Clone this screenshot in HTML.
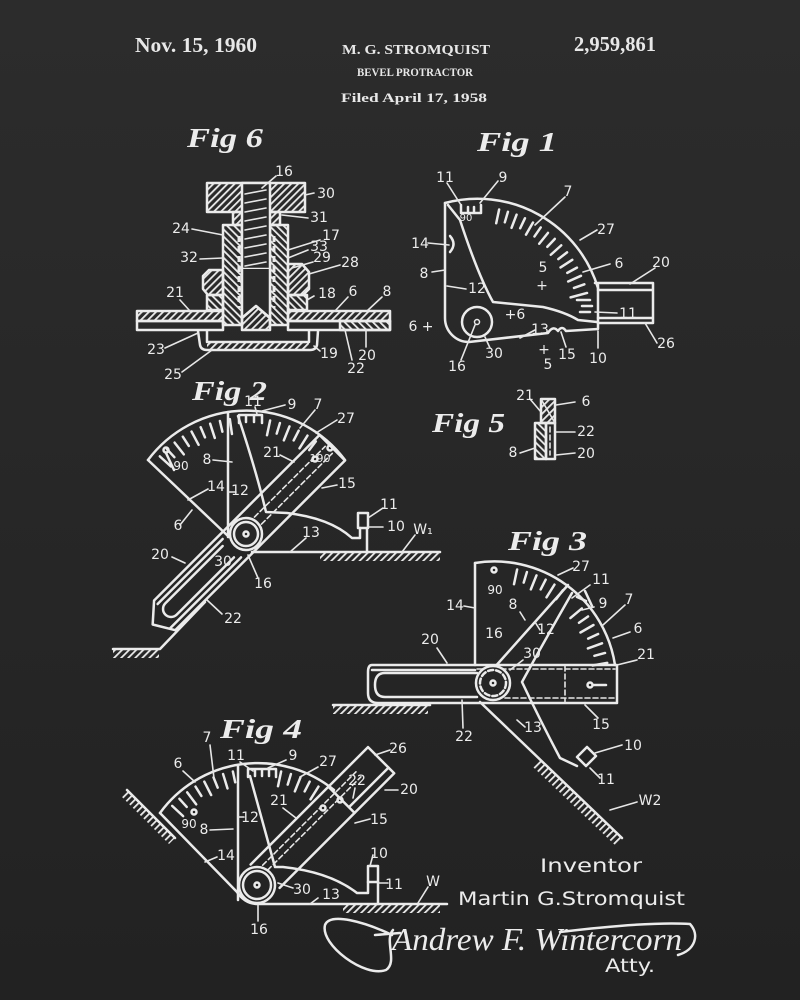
<!DOCTYPE html>
<html><head><meta charset="utf-8"><style>
html,body{margin:0;padding:0;background:#262626;}
svg{display:block}
.s{stroke:#ebebeb;fill:none;stroke-width:2.5;stroke-linecap:round;stroke-linejoin:round}
.l{stroke:#e6e6e6;fill:none;stroke-width:1.6;stroke-linecap:round}
.n{font-family:"DejaVu Sans","Liberation Sans",sans-serif;font-size:14px;fill:#ececec;text-anchor:middle}
.f{font-family:"Liberation Serif",serif;font-style:italic;font-weight:bold;font-size:27px;fill:#ececec}
.h{font-family:"Liberation Serif",serif;font-weight:bold;fill:#e8e8e8}
.d{stroke-dasharray:5 3}
</style></head><body>
<svg width="800" height="1000" viewBox="0 0 800 1000" xmlns="http://www.w3.org/2000/svg">
<defs>
<linearGradient id="bg" x1="0" y1="0" x2="0" y2="1"><stop offset="0" stop-color="#2c2c2c"/><stop offset="1" stop-color="#222"/></linearGradient>
<pattern id="hA" width="5" height="5" patternUnits="userSpaceOnUse" patternTransform="rotate(45)"><rect width="1.8" height="5" fill="#ebebeb"/></pattern>
<pattern id="hB" width="5" height="5" patternUnits="userSpaceOnUse" patternTransform="rotate(-45)"><rect width="1.8" height="5" fill="#ebebeb"/></pattern>
</defs>
<rect width="800" height="1000" fill="url(#bg)"/>

<!-- header -->
<text class="h" x="135" y="52" font-size="21" textLength="122" lengthAdjust="spacingAndGlyphs">Nov. 15, 1960</text>
<text class="h" x="342" y="54" font-size="14" textLength="148" lengthAdjust="spacingAndGlyphs">M. G. STROMQUIST</text>
<text class="h" x="357" y="76" font-size="12" textLength="116" lengthAdjust="spacingAndGlyphs">BEVEL PROTRACTOR</text>
<text class="h" x="341" y="102" font-size="13" textLength="146" lengthAdjust="spacingAndGlyphs">Filed April 17, 1958</text>
<text class="h" x="574" y="51" font-size="21" textLength="82" lengthAdjust="spacingAndGlyphs">2,959,861</text>

<!-- fig labels -->
<text class="f" x="187" y="147" textLength="76" lengthAdjust="spacingAndGlyphs">Fig 6</text>
<text class="f" x="477" y="151" textLength="80" lengthAdjust="spacingAndGlyphs">Fig 1</text>
<text class="f" x="192" y="400" textLength="75" lengthAdjust="spacingAndGlyphs">Fig 2</text>
<text class="f" x="432" y="432" textLength="73" lengthAdjust="spacingAndGlyphs">Fig 5</text>
<text class="f" x="508" y="550" textLength="79" lengthAdjust="spacingAndGlyphs">Fig 3</text>
<text class="f" x="220" y="738" textLength="82" lengthAdjust="spacingAndGlyphs">Fig 4</text>

<!-- ============ FIG 6 ============ -->
<g class="s">
<rect x="207" y="183" width="98" height="29" fill="url(#hA)"/>
<rect x="233" y="212" width="47" height="13" fill="url(#hA)"/>
<rect x="223" y="225" width="19" height="100" fill="url(#hB)"/>
<rect x="270" y="225" width="18" height="100" fill="url(#hB)"/>
<path d="M209,270 L223,270 L223,295 L208,295 L203,289 L203,276 Z" fill="url(#hA)"/>
<path d="M288,264 L302,264 L309,272 L309,289 L303,295 L288,295 Z" fill="url(#hA)"/>
<rect x="207" y="295" width="16" height="15" fill="url(#hB)"/>
<rect x="288" y="295" width="19" height="15" fill="url(#hB)"/>
<rect x="242" y="183" width="28" height="86" fill="#2a2a2a"/>
<path d="M242,269 L242,318 L256,306 L270,318 L270,269" fill="#2a2a2a"/>
<path d="M242,318 L256,306 L270,318 L270,330 L242,330 Z" fill="url(#hA)"/>
<rect x="137" y="311" width="86" height="10" fill="url(#hA)"/>
<rect x="137" y="321" width="86" height="9"/>
<rect x="288" y="311" width="102" height="10" fill="url(#hA)"/>
<rect x="288" y="321" width="102" height="9"/>
<rect x="340" y="321" width="50" height="9" fill="url(#hB)"/>
<path d="M198,331 L200,345 Q201,350 207,350 L310,350 Q316,350 317,345 L318,331"/>
<path d="M207,331 L207,342 L309,342 L309,331"/>
</g>
<rect x="207" y="342" width="102" height="8" fill="url(#hA)"/>
<g class="l">
<path d="M245,194 L266,190 M245,203 L266,199 M245,212 L266,208 M245,221 L266,217 M245,230 L266,226 M245,239 L266,235 M245,248 L266,244 M245,257 L266,253 M245,266 L266,262"/>
</g>
<g stroke="#ebebeb" stroke-width="3" stroke-dasharray="6 4" fill="none">
<path d="M239,236 L239,308 M274,236 L274,308"/>
</g>
<g class="l">
<path d="M276,176 L262,188 M314,193 L305,195 M308,218 L282,215 M192,229 L223,235 M320,240 L288,250 M308,250 L288,258 M313,262 L292,268 M340,265 L309,274 M200,259 L223,258 M314,296 L307,300 M348,297 L335,311 M382,297 L367,311 M180,300 L190,311 M165,348 L198,333 M182,372 L212,350 M320,351 L314,346 M366,347 L366,330 M352,360 L345,330"/>
</g>
<g class="n">
<text x="284" y="176">16</text><text x="326" y="198">30</text><text x="319" y="222">31</text>
<text x="181" y="233">24</text><text x="331" y="240">17</text><text x="319" y="251">33</text>
<text x="322" y="262">29</text><text x="350" y="267">28</text><text x="189" y="262">32</text>
<text x="327" y="298">18</text><text x="353" y="296">6</text><text x="387" y="296">8</text>
<text x="175" y="297">21</text><text x="156" y="354">23</text><text x="173" y="379">25</text>
<text x="329" y="358">19</text><text x="367" y="360">20</text><text x="356" y="373">22</text>
</g>

<!-- ============ FIG 1 ============ -->
<g class="s">
<path d="M445,203 A126,126 0 0 1 598,288"/>
<path d="M445,203 L445,318 A24,24 0 0 0 469,342 L548,333 Q553,325 558,331 Q562,325 566,331 L598,329 L598,285"/>
<path d="M448,205 L460,220 Q478,275 493,302 L543,307 Q565,312 578,320 L597,322"/>
<path d="M450,236 Q457,244 450,252"/>
<path d="M595,283 L653,283 L653,323 L598,323 M598,290 L653,290 M598,318 L653,318"/>
<circle cx="477" cy="322" r="15"/>
<path d="M461,213 L461,205 M461,213 L481,213 L481,205 M468,213 L468,207 M474,213 L474,207"/>
</g>
<circle cx="477" cy="322" r="2.5" fill="none" stroke="#ebebeb" stroke-width="1.5"/>
<g class="s" transform="translate(475,323)">
<line x1="0" y1="-102" x2="0" y2="-116" transform="rotate(12)"/>
<line x1="0" y1="-105" x2="0" y2="-116" transform="rotate(16.5)"/>
<line x1="0" y1="-102" x2="0" y2="-116" transform="rotate(21)"/>
<line x1="0" y1="-105" x2="0" y2="-116" transform="rotate(25.5)"/>
<line x1="0" y1="-102" x2="0" y2="-116" transform="rotate(30)"/>
<line x1="0" y1="-105" x2="0" y2="-116" transform="rotate(34.5)"/>
<line x1="0" y1="-102" x2="0" y2="-116" transform="rotate(39)"/>
<line x1="0" y1="-105" x2="0" y2="-116" transform="rotate(43.5)"/>
<line x1="0" y1="-102" x2="0" y2="-116" transform="rotate(48)"/>
<line x1="0" y1="-105" x2="0" y2="-116" transform="rotate(52.5)"/>
<line x1="0" y1="-102" x2="0" y2="-116" transform="rotate(57)"/>
<line x1="0" y1="-105" x2="0" y2="-116" transform="rotate(61.5)"/>
<line x1="0" y1="-102" x2="0" y2="-116" transform="rotate(66)"/>
<line x1="0" y1="-105" x2="0" y2="-116" transform="rotate(70.5)"/>
<line x1="0" y1="-99" x2="0" y2="-116" transform="rotate(75)"/>
</g>
<g class="s"><path d="M577,300 L590,300 M582,306 L592,306 M580,312 L590,312"/></g>
<g class="l">
<path d="M447,183 L461,205 M498,181 L480,203 M565,197 L535,225 M597,230 L580,240 M428,243 L449,245 M432,272 L445,270 M466,289 L447,286 M610,264 L583,272 M655,268 L630,284 M617,313 L595,312 M535,330 L520,338 M598,348 L598,331 M657,343 L645,323 M461,360 L475,325 M490,348 L485,337 M566,347 L561,332"/>
</g>
<g class="n">
<text x="445" y="182">11</text><text x="503" y="182">9</text><text x="568" y="196">7</text>
<text x="606" y="234">27</text><text x="420" y="248">14</text><text x="424" y="278">8</text>
<text x="477" y="293">12</text><text x="543" y="272">5</text><text x="542" y="290">+</text>
<text x="619" y="268">6</text><text x="661" y="267">20</text><text x="628" y="318">11</text>
<text x="421" y="331">6 +</text><text x="515" y="319">+6</text><text x="540" y="334">13</text>
<text x="567" y="359">15</text><text x="544" y="354">+</text><text x="548" y="369">5</text>
<text x="598" y="363">10</text><text x="666" y="348">26</text><text x="457" y="371">16</text>
<text x="494" y="358">30</text><text x="466" y="221" font-size="10">90</text>
</g>

<!-- ============ FIG 5 ============ -->
<g class="s">
<rect x="541" y="399" width="14" height="24" fill="url(#hA)"/>
<rect x="535" y="423" width="11" height="36" fill="url(#hB)"/>
<rect x="546" y="423" width="9" height="36"/>
</g>
<path d="M541,399 L555,423" class="l"/>
<path d="M550,427 L550,455" class="l d"/>
<g class="l"><path d="M530,399 L541,412 M575,402 L556,405 M575,432 L556,432 M520,453 L535,448 M575,453 L556,455"/></g>
<g class="n"><text x="525" y="400">21</text><text x="586" y="406">6</text><text x="586" y="436">22</text><text x="513" y="457">8</text><text x="586" y="458">20</text></g>

<!-- ============ FIG 2 ============ -->
<g class="s">
<path d="M148,460 A123,123 0 0 1 345,460"/>
<path d="M148,460 L229,537"/>
<path d="M228,412 L228,537"/>
<path d="M238,416 Q256,470 266,512 L287,513 Q330,518 352,538 L360,538 L360,528"/>
<rect x="358" y="513" width="10" height="15"/>
<path d="M367,528 L367,552 M252,552 L440,552"/>
<path d="M239,423 L239,415 L262,415 L262,423 M246,415 L246,422 M254,415 L254,422"/>
<path d="M113,649 L160,649 L205,602"/>
</g>
<rect x="320" y="553" width="120" height="8" fill="url(#hA)"/>
<rect x="113" y="650" width="46" height="8" fill="url(#hA)"/>
<g class="s" transform="translate(246,534)">
<line x1="0" y1="-101" x2="0" y2="-116" transform="rotate(-48)"/>
<line x1="0" y1="-105" x2="0" y2="-116" transform="rotate(-43)"/>
<line x1="0" y1="-101" x2="0" y2="-116" transform="rotate(-38)"/>
<line x1="0" y1="-105" x2="0" y2="-116" transform="rotate(-33)"/>
<line x1="0" y1="-101" x2="0" y2="-116" transform="rotate(-28)"/>
<line x1="0" y1="-105" x2="0" y2="-116" transform="rotate(-23)"/>
<line x1="0" y1="-101" x2="0" y2="-116" transform="rotate(-18)"/>
<line x1="0" y1="-105" x2="0" y2="-116" transform="rotate(-13)"/>
<line x1="0" y1="-101" x2="0" y2="-116" transform="rotate(-8)"/>
<line x1="0" y1="-101" x2="0" y2="-116" transform="rotate(12)"/>
<line x1="0" y1="-105" x2="0" y2="-116" transform="rotate(17)"/>
<line x1="0" y1="-101" x2="0" y2="-116" transform="rotate(22)"/>
<line x1="0" y1="-105" x2="0" y2="-116" transform="rotate(27)"/>
<line x1="0" y1="-101" x2="0" y2="-116" transform="rotate(32)"/>
<line x1="0" y1="-105" x2="0" y2="-116" transform="rotate(37)"/>
</g>
<g class="s" transform="translate(246,534) rotate(-45)">
<path d="M122,-18 L-112,-18 L-130,-2 L-118,18 L122,18 Z"/>
<path d="M-112,-13 L-20,-13 M-120,13 L-20,13"/>
<path d="M-25,-8 L-106,-8 A8,8 0 0 0 -106,8 L-25,8"/>
</g>
<g class="l d" transform="translate(246,534) rotate(-45)"><path d="M18,-6 L118,-6 M18,4 L118,4"/></g>
<g class="s"><circle cx="246" cy="534" r="16" fill="#272727"/><circle cx="246" cy="534" r="12"/><circle cx="246" cy="534" r="2.5"/></g>
<g class="s"><circle cx="166" cy="450" r="2.5"/><path d="M166,453 L174,470"/><circle cx="315" cy="459" r="2.5"/><circle cx="330" cy="448" r="2.5"/></g>
<g class="l">
<path d="M255,407 L257,414 M285,405 L262,411 M315,410 L300,428 M337,420 L316,433 M280,455 L294,462 M213,460 L232,462 M208,489 L188,500 M236,492 L228,492 M337,485 L322,488 M180,525 L192,510 M383,508 L368,518 M383,527 L368,527 M415,535 L402,552 M306,538 L290,552 M172,557 L185,563 M258,578 L248,555 M222,614 L207,600"/>
</g>
<g class="n">
<text x="253" y="406">11</text><text x="292" y="409">9</text><text x="318" y="409">7</text>
<text x="346" y="423">27</text><text x="272" y="457">21</text><text x="207" y="464">8</text>
<text x="181" y="470" font-size="12">90</text><text x="216" y="491">14</text><text x="240" y="495">12</text>
<text x="347" y="488">15</text><text x="178" y="530">6</text><text x="389" y="509">11</text>
<text x="396" y="531">10</text><text x="423" y="534">W₁</text><text x="311" y="537">13</text>
<text x="160" y="559">20</text><text x="223" y="566">30</text><text x="263" y="588">16</text>
<text x="233" y="623">22</text><text x="320" y="462" font-size="11">190</text>
</g>

<!-- ============ FIG 3 ============ -->
<g class="s">
<path d="M475,563 L475,665"/>
<path d="M475,563 A122,122 0 0 1 615,665"/>
<path d="M372,665 L617,665 L617,703 L378,703 Q368,703 368,693 L368,672 Q368,665 372,665 Z"/>
<path d="M372,670 L475,670"/>
<path d="M477,673 L385,673 Q375,673 375,685 Q375,697 385,697 L477,697"/>
<path d="M485,678 L568,585"/>
<path d="M572,593 Q545,640 522,682 Q540,720 560,758 L577,766"/>
<path d="M480,702 L622,838"/>
<path d="M577,757 L587,747 L596,756 L586,766 Z"/>
<path d="M333,705 L430,705"/>
<path d="M577,597 L586,601 M585,591 L592,606"/>
<circle cx="590" cy="685" r="2.5"/><path d="M593,685 L606,685"/>
<circle cx="494" cy="570" r="2.5"/>
</g>
<g class="l d"><path d="M477,669 L615,669 M505,698 L615,698 M565,666 L565,702"/></g>
<rect x="333" y="706" width="95" height="8" fill="url(#hA)"/>
<polygon points="540,760 622,838 615,845 533,767" fill="url(#hA)"/>
<g class="s" transform="translate(493,683)">
<line x1="0" y1="-101" x2="0" y2="-116" transform="rotate(12)"/>
<line x1="0" y1="-105" x2="0" y2="-116" transform="rotate(17)"/>
<line x1="0" y1="-101" x2="0" y2="-116" transform="rotate(22)"/>
<line x1="0" y1="-105" x2="0" y2="-116" transform="rotate(27)"/>
<line x1="0" y1="-101" x2="0" y2="-116" transform="rotate(32)"/>
<line x1="0" y1="-105" x2="0" y2="-116" transform="rotate(37)"/>
<line x1="0" y1="-101" x2="0" y2="-116" transform="rotate(50)"/>
<line x1="0" y1="-105" x2="0" y2="-116" transform="rotate(55)"/>
<line x1="0" y1="-101" x2="0" y2="-116" transform="rotate(60)"/>
<line x1="0" y1="-105" x2="0" y2="-116" transform="rotate(65)"/>
<line x1="0" y1="-101" x2="0" y2="-116" transform="rotate(70)"/>
<line x1="0" y1="-105" x2="0" y2="-116" transform="rotate(75)"/>
<line x1="0" y1="-101" x2="0" y2="-116" transform="rotate(80)"/>
</g>
<g class="s"><circle cx="493" cy="683" r="17" fill="#262626"/><circle cx="493" cy="683" r="13" class="d"/><circle cx="493" cy="683" r="2.5"/></g>
<g class="l">
<path d="M573,568 L558,575 M590,585 L572,598 M594,607 L582,610 M625,605 L603,625 M464,606 L475,608 M630,632 L613,638 M437,648 L447,663 M523,660 L510,670 M637,660 L617,665 M598,718 L585,705 M525,727 L517,720 M463,728 L462,700 M622,745 L595,753 M600,778 L590,768 M637,802 L610,810 M520,612 L525,620 M540,630 L535,622"/>
</g>
<g class="n">
<text x="581" y="571">27</text><text x="601" y="584">11</text><text x="495" y="594" font-size="12">90</text>
<text x="513" y="609">8</text><text x="603" y="608">9</text><text x="629" y="604">7</text>
<text x="455" y="610">14</text><text x="546" y="634">12</text><text x="638" y="633">6</text>
<text x="494" y="638">16</text><text x="430" y="644">20</text><text x="532" y="658">30</text>
<text x="646" y="659">21</text><text x="601" y="729">15</text><text x="533" y="732">13</text>
<text x="464" y="741">22</text><text x="633" y="750">10</text><text x="606" y="784">11</text>
<text x="650" y="805">W2</text>
</g>

<!-- ============ FIG 4 ============ -->
<g class="s">
<path d="M160,813 A121,121 0 0 1 334,790"/>
<path d="M160,813 L237,892 Q245,904 258,904 L447,904"/>
<path d="M238,765 L238,900"/>
<path d="M250,776 Q265,830 275,867 L283,867 Q330,872 357,893 L368,893 L368,882"/>
<rect x="368" y="866" width="10" height="16"/>
<path d="M378,882 L378,904"/>
<path d="M248,777 L248,769 L276,769 L276,777 M255,769 L255,776 M262,769 L262,776 M269,769 L269,776"/>
<path d="M127,790 L175,838"/>
<circle cx="194" cy="812" r="2.5"/><circle cx="323" cy="808" r="2.5"/><circle cx="340" cy="800" r="2.5"/>
</g>
<rect x="343" y="905" width="97" height="8" fill="url(#hA)"/>
<polygon points="127,790 175,838 169,844 121,796" fill="url(#hA)"/>
<g class="s" transform="translate(257,885)">
<line x1="0" y1="-101" x2="0" y2="-116" transform="rotate(-47)"/>
<line x1="0" y1="-105" x2="0" y2="-116" transform="rotate(-42)"/>
<line x1="0" y1="-101" x2="0" y2="-116" transform="rotate(-37)"/>
<line x1="0" y1="-105" x2="0" y2="-116" transform="rotate(-32)"/>
<line x1="0" y1="-101" x2="0" y2="-116" transform="rotate(-27)"/>
<line x1="0" y1="-105" x2="0" y2="-116" transform="rotate(-22)"/>
<line x1="0" y1="-101" x2="0" y2="-116" transform="rotate(-17)"/>
<line x1="0" y1="-105" x2="0" y2="-116" transform="rotate(-12)"/>
<line x1="0" y1="-101" x2="0" y2="-116" transform="rotate(12)"/>
<line x1="0" y1="-105" x2="0" y2="-116" transform="rotate(17)"/>
<line x1="0" y1="-101" x2="0" y2="-116" transform="rotate(22)"/>
<line x1="0" y1="-105" x2="0" y2="-116" transform="rotate(27)"/>
<line x1="0" y1="-101" x2="0" y2="-116" transform="rotate(32)"/>
</g>
<g class="s" transform="translate(257,885) rotate(-45)">
<path d="M10,-19 L176,-19 L176,18 L14,18"/>
<path d="M120,-19 L120,18 M120,10 L176,10"/>
</g>
<g class="l d" transform="translate(257,885) rotate(-45)"><path d="M18,-10 L150,-10 M18,-3 L150,-3"/></g>
<g class="s"><circle cx="257" cy="885" r="18" fill="#242424"/><circle cx="257" cy="885" r="14"/><circle cx="257" cy="885" r="2.5"/></g>
<g class="l">
<path d="M183,771 L195,782 M210,745 L214,778 M240,762 L253,771 M286,760 L268,768 M318,767 L300,777 M390,750 L375,755 M398,790 L385,790 M355,788 L353,798 M283,808 L296,818 M244,817 L238,817 M210,830 L233,829 M370,819 L355,823 M217,857 L205,862 M373,855 L370,866 M388,883 L378,883 M428,887 L418,903 M293,888 L278,883 M318,898 L310,904 M258,921 L258,905"/>
</g>
<g class="n">
<text x="178" y="768">6</text><text x="207" y="742">7</text><text x="236" y="760">11</text>
<text x="293" y="760">9</text><text x="328" y="766">27</text><text x="398" y="753">26</text>
<text x="409" y="794">20</text><text x="357" y="785">22</text><text x="279" y="805">21</text>
<text x="250" y="822">12</text><text x="189" y="828" font-size="12">90</text><text x="204" y="834">8</text>
<text x="379" y="824">15</text><text x="226" y="860">14</text><text x="379" y="858">10</text>
<text x="394" y="889">11</text><text x="433" y="886">W</text><text x="302" y="894">30</text>
<text x="331" y="899">13</text><text x="259" y="934">16</text>
</g>

<!-- ============ Inventor / signature ============ -->
<text x="540" y="872" font-family="'DejaVu Sans','Liberation Sans',sans-serif" font-size="19" fill="#ececec" textLength="102" lengthAdjust="spacingAndGlyphs">Inventor</text>
<text x="458" y="905" font-family="'DejaVu Sans','Liberation Sans',sans-serif" font-size="19" fill="#ececec" textLength="227" lengthAdjust="spacingAndGlyphs">Martin G.Stromquist</text>
<g class="s" stroke-width="2.6">
<path d="M392,935 C365,922 330,912 325,925 C320,945 365,978 386,970 C398,962 384,940 393,930"/>
<path d="M375,935 L400,933"/>
<path d="M560,932 C610,926 660,922 690,924 C700,935 695,950 678,955"/>
</g>
<text x="392" y="950" font-family="'Liberation Serif',serif" font-style="italic" font-size="32" fill="#ececec" textLength="290" lengthAdjust="spacingAndGlyphs">Andrew F. Wintercorn</text>
<text x="605" y="972" font-family="'DejaVu Sans','Liberation Sans',sans-serif" font-size="19" fill="#ececec" textLength="50" lengthAdjust="spacingAndGlyphs">Atty.</text>
</svg>
</body></html>
